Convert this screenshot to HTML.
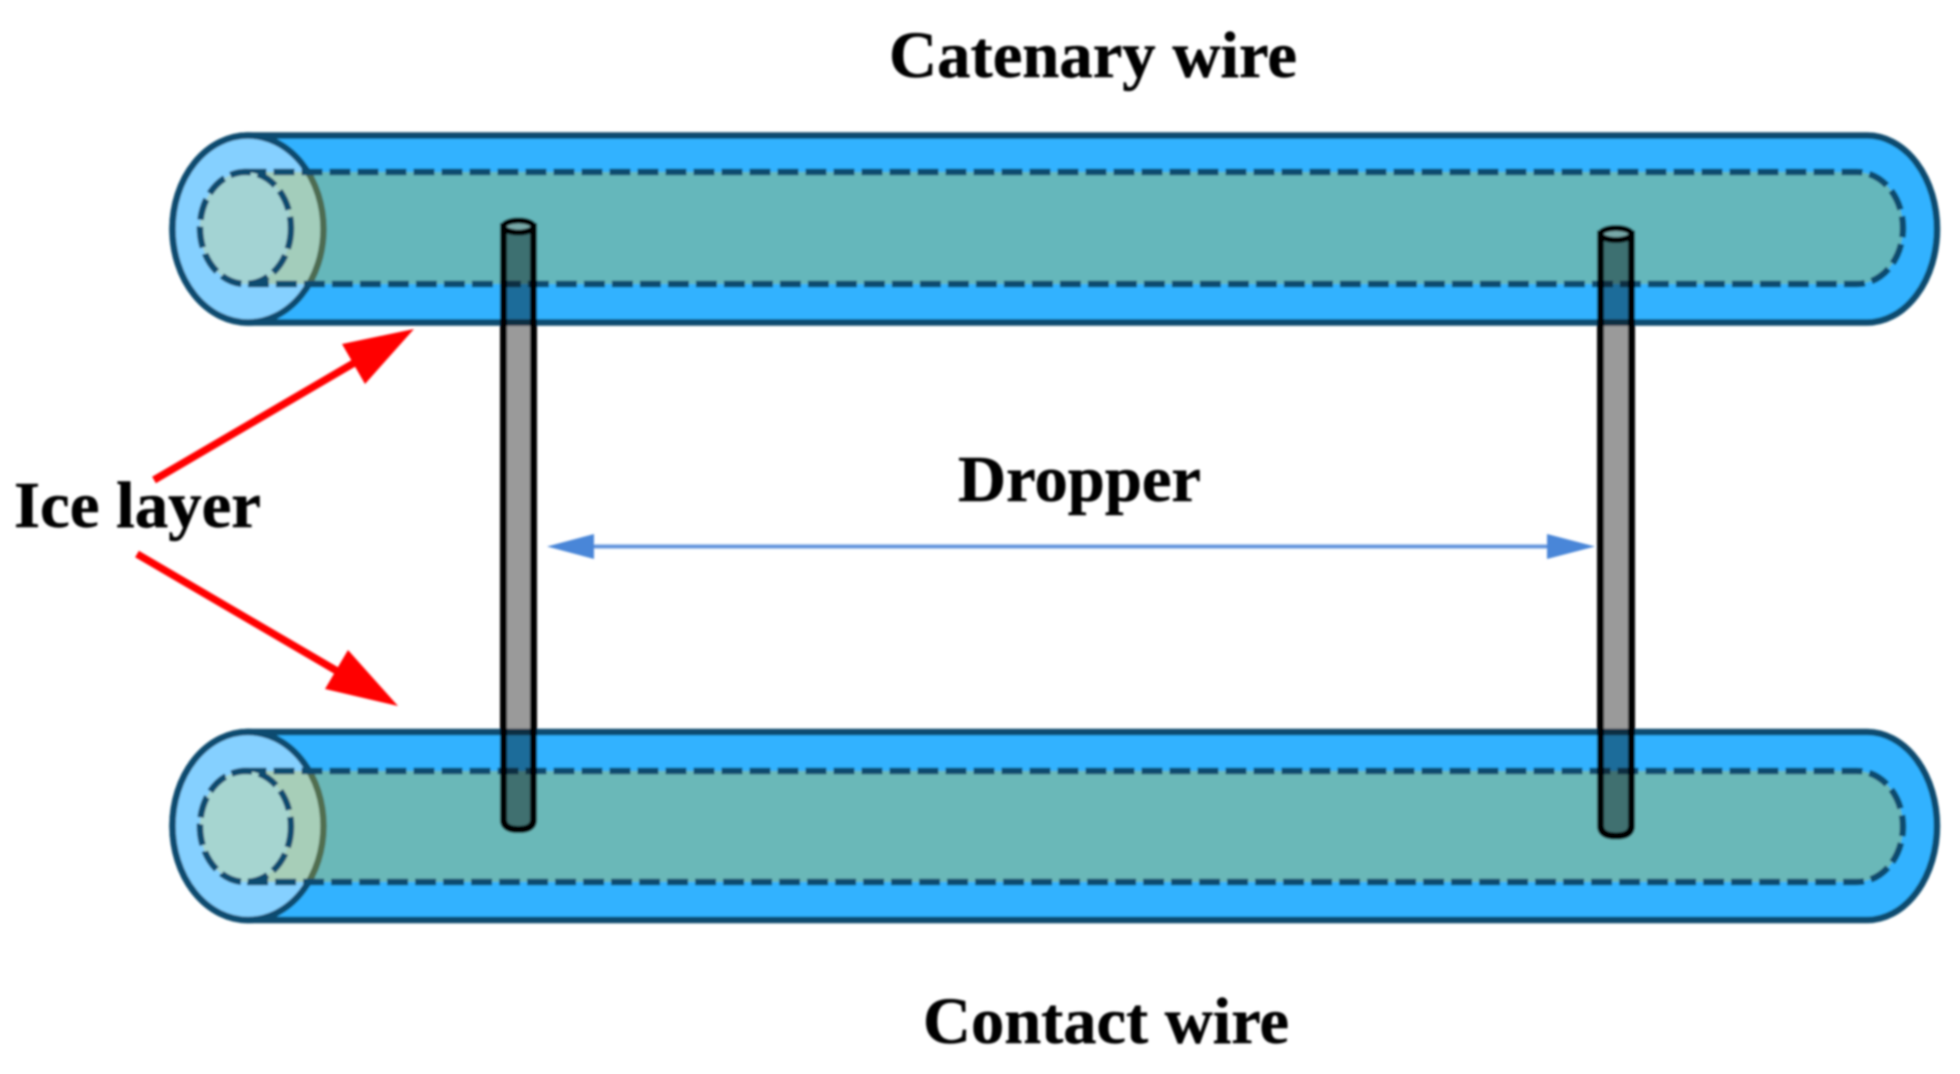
<!DOCTYPE html>
<html lang="en">
<head>
<meta charset="utf-8">
<title>Catenary and contact wire ice layer diagram</title>
<style>
html,body{margin:0;padding:0;background:#fff;width:1960px;height:1074px;overflow:hidden}
svg{display:block}
text{font-family:"Liberation Serif","Times New Roman",serif;font-weight:700;font-size:66px;fill:#000;stroke:#000;stroke-width:.5}
.rod{fill:#9a9a9a;stroke:#000;stroke-width:7;mix-blend-mode:multiply}
.dash{stroke:#0f4c6f;stroke-width:6.500;stroke-dasharray:21 7}
.outer{fill:#31b2ff;stroke:#0f4c6f;stroke-width:6.500}
.end{fill:#85d0ff;stroke:#0f4c6f;stroke-width:6.500}
</style>
</head>
<body>
<svg xmlns="http://www.w3.org/2000/svg" width="1960" height="1074" viewBox="0 0 1960 1074">
  <defs><filter id="b" x="-5%" y="-5%" width="110%" height="110%"><feGaussianBlur stdDeviation="1"/></filter></defs>
  <rect width="1960" height="1074" fill="#fff"/>

  <g filter="url(#b)">
    <!-- Catenary wire -->
    <path class="outer" d="M248 135.500H1867A70 93.500 0 0 1 1867 322.500H248A75.500 93.500 0 0 1 248 135.500Z"/>
    <ellipse class="end" cx="248" cy="229" rx="75.500" ry="93.500"/>
    <path class="dash" fill="#f7c500" fill-opacity=".267" d="M245.500 172H1857A46 56 0 0 1 1857 284H245.500A45.500 56 0 0 1 245.500 172Z"/>
    <ellipse class="dash" fill="#a3d3d3" cx="245.500" cy="228" rx="45.500" ry="56"/>

    <!-- Contact wire -->
    <path class="outer" d="M248 732H1867A70 94 0 0 1 1867 920H248A75.500 94 0 0 1 248 732Z"/>
    <ellipse class="end" cx="248" cy="826" rx="75.500" ry="94"/>
    <path class="dash" fill="#ffc800" fill-opacity=".28" d="M245.500 771H1857A46 55.500 0 0 1 1857 882H245.500A45.500 55.500 0 0 1 245.500 771Z"/>
    <ellipse class="dash" fill="#a6d5d0" cx="245.500" cy="826.500" rx="45.500" ry="55.500"/>

    <!-- Droppers -->
    <path class="rod" d="M503.500 226.500V820Q503.500 829.500 518.500 829.500Q533.500 829.500 533.500 820V226.500Z"/>
    <ellipse cx="518.500" cy="226.500" rx="15" ry="6" fill="#78a8a8" stroke="#000" stroke-width="6"/>
    <path class="rod" d="M1600.500 234V826Q1600.500 836 1616 836Q1631.500 836 1631.500 826V234Z"/>
    <ellipse cx="1616" cy="234" rx="15.500" ry="6" fill="#78a8a8" stroke="#000" stroke-width="6"/>

    <!-- Red arrows -->
    <line x1="154" y1="480" x2="354" y2="363" stroke="#ff0000" stroke-width="7.500"/>
    <polygon points="414,329 342,344 365,384" fill="#ff0000"/>
    <line x1="137" y1="554" x2="337" y2="671" stroke="#ff0000" stroke-width="7.500"/>
    <polygon points="398,706 348,650 325,689" fill="#ff0000"/>

    <!-- Blue dimension arrow -->
    <line x1="590" y1="546.500" x2="1550" y2="546.500" stroke="#a9c8ef" stroke-width="5"/>
    <line x1="590" y1="546.500" x2="1550" y2="546.500" stroke="#4a86d8" stroke-width="2.500"/>
    <polygon points="547,546.500 594,534 594,559" fill="#4a86d8"/>
    <polygon points="1595,546.500 1547,534 1547,559" fill="#4a86d8"/>

    <!-- Labels -->
    <text x="889" y="77" textLength="408" lengthAdjust="spacingAndGlyphs">Catenary wire</text>
    <text x="958" y="501" textLength="243" lengthAdjust="spacingAndGlyphs">Dropper</text>
    <text x="14" y="527" textLength="247" lengthAdjust="spacingAndGlyphs">Ice layer</text>
    <text x="923" y="1043" textLength="366" lengthAdjust="spacingAndGlyphs">Contact wire</text>
  </g>
</svg>
</body>
</html>
